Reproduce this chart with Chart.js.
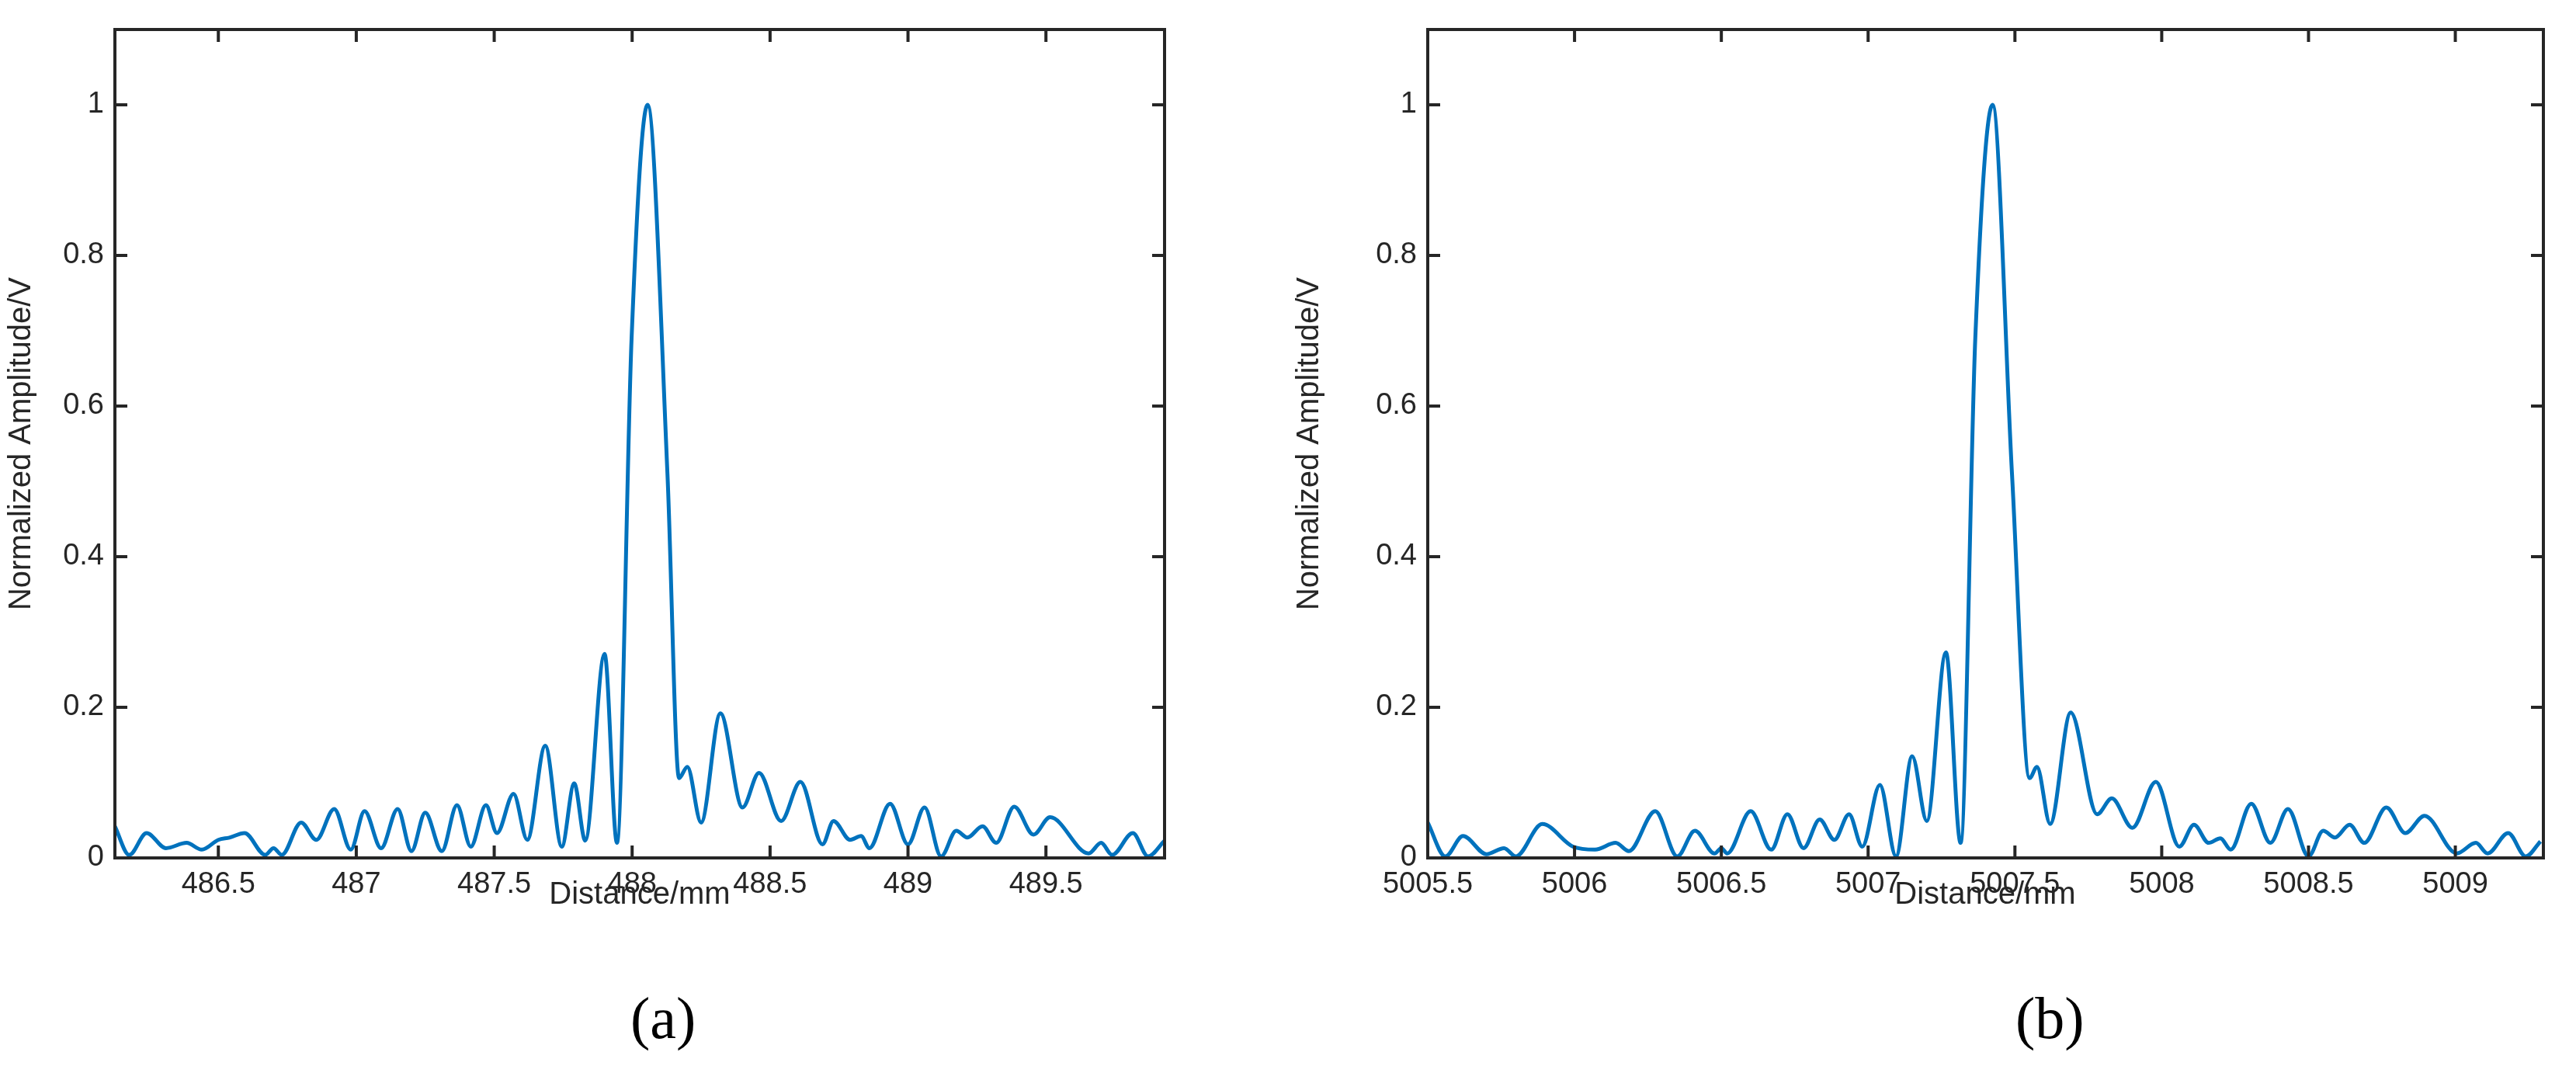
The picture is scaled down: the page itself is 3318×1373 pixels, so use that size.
<!DOCTYPE html>
<html>
<head>
<meta charset="utf-8">
<script src="https://cdn.jsdelivr.net/npm/chart.js@4"></script>
<style>
  body { margin: 0; background: #fff; width: 3318px; height: 1373px; position: relative; overflow: hidden; }
  .panel { position: absolute; top: 0; width: 1659px; height: 1373px; }
  .cap { position: absolute; top: 1268px; font: 76px "Liberation Serif", serif; color: #000; }
  .xt { position: absolute; top: 1128px; width: 600px; text-align: center; font: 40px "Liberation Sans", Arial, sans-serif; color: #262626; }
</style>
</head>
<body>
<div class="panel" style="left:0"><canvas id="chartA"></canvas></div>
<div class="panel" style="left:1659px"><canvas id="chartB"></canvas></div>
<div class="xt" style="left:524px">Distance/mm</div>
<div class="xt" style="left:2257px">Distance/mm</div>
<div class="cap" style="left:812px">(a)</div>
<div class="cap" style="left:2596px">(b)</div>
<script>
// panel (a): distance (mm) / normalized amplitude, read at local extrema
const distA = [486.125, 486.177, 486.24, 486.31, 486.385, 486.44, 486.5, 486.54, 486.595, 486.67, 486.70, 486.73,
  486.80, 486.855, 486.92, 486.98, 487.03, 487.09, 487.15, 487.20, 487.25, 487.31, 487.365, 487.415, 487.47, 487.51,
  487.57, 487.62, 487.685, 487.745, 487.79, 487.83, 487.90, 487.945, 487.998, 488.056, 488.128, 488.17, 488.20, 488.25,
  488.32, 488.40, 488.46, 488.54, 488.61, 488.69, 488.73, 488.79, 488.83, 488.86, 488.935, 489.0, 489.06, 489.12,
  489.175, 489.215, 489.27, 489.32, 489.385, 489.455, 489.515, 489.655, 489.70, 489.74, 489.815, 489.87, 489.93];
const ampA = [0.042, 0.004, 0.033, 0.013, 0.02, 0.011, 0.024, 0.027, 0.033, 0.004, 0.013, 0.004,
  0.047, 0.024, 0.065, 0.011, 0.062, 0.013, 0.065, 0.009, 0.06, 0.009, 0.07, 0.015, 0.07, 0.033,
  0.085, 0.024, 0.149, 0.015, 0.099, 0.023, 0.271, 0.02, 0.69, 1.0, 0.51, 0.106, 0.121, 0.047,
  0.192, 0.067, 0.113, 0.049, 0.101, 0.018, 0.049, 0.024, 0.029, 0.013, 0.072, 0.018, 0.067, 0.002,
  0.036, 0.027, 0.042, 0.02, 0.068, 0.031, 0.054, 0.006, 0.02, 0.004, 0.033, 0.002, 0.023];

// panel (b)
const distB = [5005.5, 5005.56, 5005.62, 5005.70, 5005.76, 5005.80, 5005.89, 5005.995, 5006.07, 5006.14, 5006.185,
  5006.275, 5006.35, 5006.41, 5006.477, 5006.50, 5006.52, 5006.60, 5006.67, 5006.725, 5006.78, 5006.835, 5006.885,
  5006.935, 5006.98, 5007.04, 5007.095, 5007.15, 5007.20, 5007.265, 5007.315, 5007.365, 5007.424, 5007.49, 5007.55,
  5007.575, 5007.62, 5007.69, 5007.78, 5007.83, 5007.90, 5007.98, 5008.06, 5008.11, 5008.16, 5008.20, 5008.235,
  5008.305, 5008.37, 5008.43, 5008.50, 5008.55, 5008.59, 5008.64, 5008.69, 5008.765, 5008.83, 5008.895, 5009.005,
  5009.07, 5009.11, 5009.18, 5009.24, 5009.29];
const ampB = [0.047, 0.002, 0.029, 0.005, 0.013, 0.002, 0.045, 0.015, 0.011, 0.02, 0.009,
  0.062, 0.002, 0.036, 0.006, 0.013, 0.006, 0.062, 0.011, 0.058, 0.013, 0.051, 0.024,
  0.058, 0.015, 0.097, 0.002, 0.135, 0.049, 0.273, 0.02, 0.69, 1.0, 0.51, 0.106,
  0.121, 0.045, 0.193, 0.058, 0.079, 0.04, 0.101, 0.015, 0.044, 0.02, 0.026, 0.011,
  0.072, 0.02, 0.065, 0.002, 0.036, 0.027, 0.044, 0.02, 0.067, 0.033, 0.056, 0.006,
  0.02, 0.006, 0.033, 0.002, 0.022];

const yTicks = [0, 0.2, 0.4, 0.6, 0.8, 1];
const xTicksA = [486.5, 487, 487.5, 488, 488.5, 489, 489.5];
const xTicksB = [5005.5, 5006, 5006.5, 5007, 5007.5, 5008, 5008.5, 5009];

const font = { family: '"Liberation Sans", Arial, sans-serif', size: 38 };

// MATLAB-like box with inward ticks on all four sides
const boxPlugin = {
    id: 'box',
    afterDraw: (chart) => {
        const { ctx, chartArea: a } = chart
        const xs = chart.scales.x, ys = chart.scales.y
        ctx.save()
        ctx.strokeStyle = '#262626'
        ctx.lineWidth = 4
        ctx.strokeRect(a.left, a.top, a.right - a.left, a.bottom - a.top)
        ctx.beginPath()
        xs.ticks.forEach(t => {
            const px = xs.getPixelForValue(t.value)
            ctx.moveTo(px, a.bottom); ctx.lineTo(px, a.bottom - 16)
            ctx.moveTo(px, a.top); ctx.lineTo(px, a.top + 16)
        })
        ys.ticks.forEach(t => {
            const py = ys.getPixelForValue(t.value)
            ctx.moveTo(a.left, py); ctx.lineTo(a.left + 16, py)
            ctx.moveTo(a.right, py); ctx.lineTo(a.right - 16, py)
        })
        ctx.stroke()
        ctx.restore()
    }
}

function makeChart(id, xs, ys, xTicks, xmin, xmax, yWidth, padRight) {
    new Chart(document.getElementById(id), {
        type: 'line',
        data: {
            datasets: [{
                data: xs.map((x, i) => ({ x: x, y: ys[i] })),
                borderColor: '#0072BD',
                borderWidth: 5,
                pointRadius: 0,
                cubicInterpolationMode: 'monotone',
                fill: false
            }]
        },
        options: {
            responsive: false,
            animation: false,
            layout: { padding: { top: 38, right: padRight, left: 0, bottom: 0 } },
            plugins: { legend: { display: false }, tooltip: { enabled: false } },
            scales: {
                x: {
                    type: 'linear', min: xmin, max: xmax,
                    grid: { display: false, drawTicks: false },
                    border: { display: false },
                    afterBuildTicks: s => { s.ticks = xTicks.map(v => ({ value: v })) },
                    afterFit: s => { s.height = 1373 - 1105 },
                    ticks: { color: '#262626', font: font, padding: 12, maxRotation: 0, autoSkip: false, callback: v => String(v) }
                },
                y: {
                    type: 'linear', min: 0, max: 1.1,
                    grid: { display: false, drawTicks: false },
                    border: { display: false },
                    afterBuildTicks: s => { s.ticks = yTicks.map(v => ({ value: v })) },
                    afterFit: s => { s.width = yWidth },
                    ticks: { color: '#262626', font: font, padding: 14, callback: v => String(v) },
                    title: { display: true, text: 'Normalized Amplitude/V', color: '#262626', font: { family: font.family, size: 40 }, padding: { top: 4, bottom: 0 } }
                }
            }
        },
        plugins: [boxPlugin]
    })
}

document.getElementById('chartA').width = 1659; document.getElementById('chartA').height = 1373
document.getElementById('chartB').width = 1659; document.getElementById('chartB').height = 1373
makeChart('chartA', distA, ampA, xTicksA, 486.125, 489.93, 148, 159)
makeChart('chartB', distB, ampB, xTicksB, 5005.5, 5009.3, 180, 42)
</script>
</body>
</html>
